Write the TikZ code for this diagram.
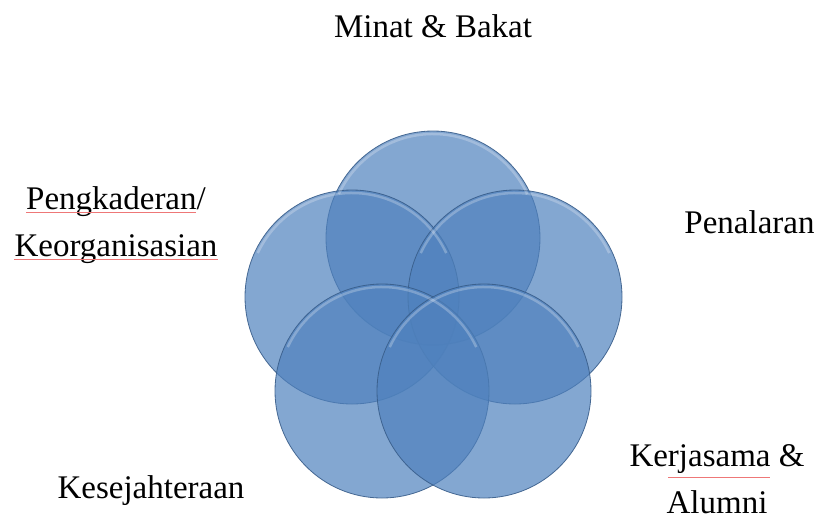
\documentclass[tikz,border=0pt]{standalone}
\usepackage{fontspec}
\setmainfont{Liberation Serif}
\definecolor{petalfill}{HTML}{4F81BD}
\definecolor{petaledge}{HTML}{385D8A}
\definecolor{spellred}{HTML}{EE7777}

\begin{document}
\begin{tikzpicture}[x=1pt,y=-1pt,
    petal/.style={circle,minimum size=214pt,inner sep=0pt,fill=petalfill,
      fill opacity=0.7,draw=petaledge,draw opacity=0.9,line width=0.8pt},
    glint/.style={white,line width=2.5pt,opacity=0.25},
    field/.style={font=\fontsize{33}{47}\selectfont,align=center,inner sep=0pt},
    spell/.style={draw=spellred,line width=0.7pt}]
  \useasboundingbox (0,0) rectangle (819,523);
  % Circles
  \node[petal] (minat) at (433,238) {};
  \node[petal] (pengkaderan) at (352,297) {};
  \node[petal] (penalaran) at (515,297) {};
  \node[petal] (kesejahteraan) at (382,391) {};
  \node[petal] (kerjasama) at (484,391) {};
  % Top highlights
  \foreach \n in {minat,pengkaderan,penalaran,kesejahteraan,kerjasama}
    \draw[glint] (\n.center) ++(-155:104) arc[start angle=-155,end angle=-25,radius=104];
  % Labels
  \node[field,anchor=base] (minat-t) at (433,37) {Minat \& Bakat};
  \node[field,anchor=base] (penalaran-t) at (749.5,233) {Penalaran};
  \node[field,anchor=base] (kesejahteraan-t) at (151,498) {Kesejahteraan};
  \node[field,anchor=base] (kerjasama-t) at (717,513) {Kerjasama \&\\Alumni};
  \node[field,anchor=base] (pengkaderan-t) at (116,256) {Pengkaderan/\\Keorganisasian};
  % Spelling marks
  \draw[spell] (26,212) -- (196,212);
  \draw[spell] (14,259) -- (218,259);
  \draw[spell] (668,477) -- (770,477);
\end{tikzpicture}
\end{document}
